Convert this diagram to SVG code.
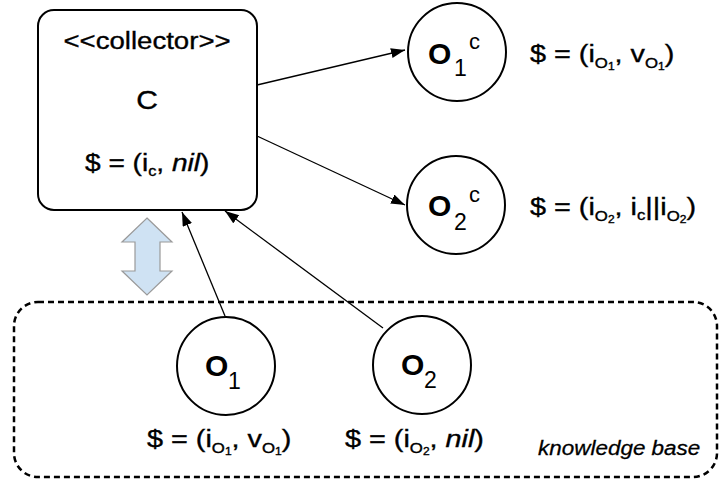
<svg xmlns="http://www.w3.org/2000/svg" width="720" height="484" viewBox="0 0 720 484">
<style>
text{font-family:"Liberation Sans",Arial,sans-serif;fill:#000}
.lbl{font-size:24px;stroke:#000;stroke-width:0.35}
.s1{font-size:14px}
.s2{font-size:10px}
.big{font-size:30px;font-weight:bold}
.sub{font-size:23px;font-weight:normal}
.sup{font-size:22px;font-weight:normal}
.node{fill:#fff;stroke:#000;stroke-width:2}
.edge{stroke:#000;stroke-width:1.3;fill:none}
</style>
<defs>
<marker id="ah" markerUnits="userSpaceOnUse" markerWidth="15" markerHeight="11" refX="14" refY="5" orient="auto">
<path d="M0,0 L14,5 L0,10 z" fill="#000"/>
</marker>
</defs>

<g id="kb">
<rect x="14" y="302" width="703" height="175" rx="24" fill="none" stroke="#000" stroke-width="2.5" stroke-dasharray="6 4"/>
<g transform="translate(538,455) scale(1.07,1)"><text style="font-size:21px;font-style:italic;stroke:#000;stroke-width:0.3">knowledge base</text></g>
</g>

<g id="sync">
<path d="M147,218 L172,242 L160,242 L160,271 L172,271 L147,295 L122,271 L135,271 L135,242 L122,242 Z" fill="#cfe2f3" stroke="#9a9a9a" stroke-width="1.2"/>
</g>

<g id="connectors">
<line class="edge" x1="257" y1="85" x2="405" y2="50" marker-end="url(#ah)"/>
<line class="edge" x1="257" y1="136" x2="405" y2="205" marker-end="url(#ah)"/>
<line class="edge" x1="225" y1="316" x2="182" y2="212" marker-end="url(#ah)"/>
<line class="edge" x1="383" y1="328" x2="225" y2="211" marker-end="url(#ah)"/>
</g>

<g id="collector">
<rect class="node" x="38" y="10" width="219" height="200" rx="16"/>
<g transform="translate(147,49) scale(1.15,1)"><text class="lbl" text-anchor="middle">&lt;&lt;collector&gt;&gt;</text></g>
<g transform="translate(147,109) scale(1.2,1)"><text class="lbl" text-anchor="middle" style="font-size:25px">C</text></g>
<g transform="translate(85,171) scale(1.17,1)"><text class="lbl">$ = (i<tspan class="s1" dy="5">c</tspan><tspan dy="-5">, </tspan><tspan font-style="italic">nil</tspan>)</text></g>
</g>

<g id="o1c">
<circle class="node" cx="457" cy="52" r="49"/>
<text class="big"><tspan x="428" y="64">O</tspan><tspan class="sub" x="454" y="76">1</tspan><tspan class="sup" x="469" y="49">c</tspan></text>
<g transform="translate(530,62) scale(1.2,1)"><text class="lbl">$ = (i<tspan class="s1" dy="6">O</tspan><tspan class="s2" dy="2">1</tspan><tspan dy="-8">, v</tspan><tspan class="s1" dy="6">O</tspan><tspan class="s2" dy="2">1</tspan><tspan dy="-8">)</tspan></text></g>
</g>

<g id="o2c">
<circle class="node" cx="456" cy="205" r="49"/>
<text class="big"><tspan x="428" y="216">O</tspan><tspan class="sub" x="454" y="230">2</tspan><tspan class="sup" x="469" y="202">c</tspan></text>
<g transform="translate(530,215) scale(1.2,1)"><text class="lbl">$ = (i<tspan class="s1" dy="6">O</tspan><tspan class="s2" dy="2">2</tspan><tspan dy="-8">, i</tspan><tspan class="s1" dy="5">c</tspan><tspan dy="-5">||i</tspan><tspan class="s1" dy="6">O</tspan><tspan class="s2" dy="2">2</tspan><tspan dy="-8">)</tspan></text></g>
</g>

<g id="o1">
<circle class="node" cx="226" cy="366" r="49"/>
<text class="big"><tspan x="205" y="376">O</tspan><tspan class="sub" x="228" y="389">1</tspan></text>
<g transform="translate(147,447) scale(1.2,1)"><text class="lbl">$ = (i<tspan class="s1" dy="6">O</tspan><tspan class="s2" dy="2">1</tspan><tspan dy="-8">, v</tspan><tspan class="s1" dy="6">O</tspan><tspan class="s2" dy="2">1</tspan><tspan dy="-8">)</tspan></text></g>
</g>

<g id="o2">
<circle class="node" cx="422" cy="365" r="49"/>
<text class="big"><tspan x="401" y="375">O</tspan><tspan class="sub" x="424" y="388">2</tspan></text>
<g transform="translate(345,447) scale(1.2,1)"><text class="lbl">$ = (i<tspan class="s1" dy="6">O</tspan><tspan class="s2" dy="2">2</tspan><tspan dy="-8">, </tspan><tspan font-style="italic">nil</tspan>)</text></g>
</g>
</svg>
